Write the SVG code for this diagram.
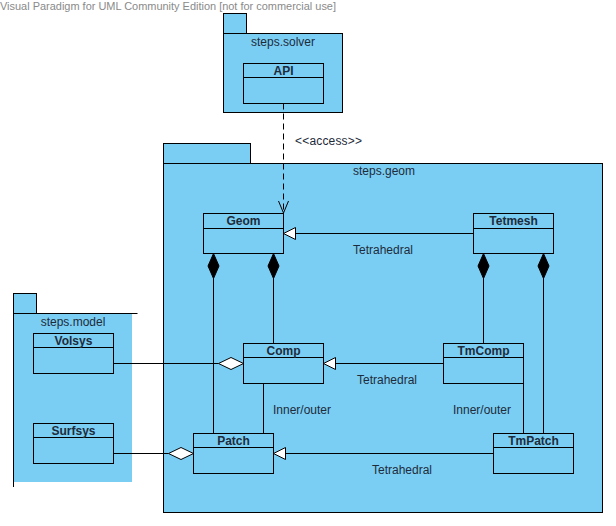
<svg xmlns="http://www.w3.org/2000/svg" width="616" height="526" viewBox="0 0 616 526">
<defs>
<style>
.pkg{fill:#7ACEF4;stroke:#000;stroke-width:1}
.cls{fill:#7ACEF4;stroke:#000;stroke-width:1}
.ln{fill:none;stroke:#000;stroke-width:1}
.t{font-family:"Liberation Sans",Arial,sans-serif;font-size:12px;fill:#1E2B3A}
.b{font-family:"Liberation Sans",Arial,sans-serif;font-size:12px;font-weight:bold;fill:#1E2B3A;text-anchor:middle}
.wm{font-family:"Liberation Sans",Arial,sans-serif;font-size:11px;fill:#8a8a8a}
</style>
</defs>
<rect width="616" height="526" fill="#fff"/>
<text class="wm" x="0" y="10" textLength="336" lengthAdjust="spacingAndGlyphs">Visual Paradigm for UML Community Edition [not for commercial use]</text>

<g id="pkg-solver">
<rect class="pkg" x="223.5" y="13.5" width="23" height="20"/>
<rect class="pkg" x="223.5" y="33.5" width="119" height="79"/>
<text class="t" x="283" y="46" text-anchor="middle">steps.solver</text>
</g>
<g id="API">
<rect class="cls" x="243.5" y="63.5" width="80" height="40"/>
<line class="ln" x1="243.5" y1="77.5" x2="323.5" y2="77.5"/>
<text class="b" x="283.5" y="74.5">API</text>
</g>

<g id="pkg-geom">
<rect class="pkg" x="163.5" y="143.5" width="87" height="20"/>
<rect class="pkg" x="163.5" y="163.5" width="439" height="349"/>
<text class="t" x="384" y="175" text-anchor="middle">steps.geom</text>
</g>

<g id="pkg-model">
<rect x="13" y="313" width="119" height="169" fill="#7ACEF4"/>
<rect class="pkg" x="13.5" y="293.5" width="23" height="20"/>
<line class="ln" x1="13.5" y1="313.5" x2="137.5" y2="313.5"/>
<line class="ln" x1="13.5" y1="313.5" x2="13.5" y2="487"/>
<text class="t" x="73" y="326" text-anchor="middle">steps.model</text>
</g>

<g id="Geom">
<rect class="cls" x="203.5" y="213.5" width="80" height="40"/>
<line class="ln" x1="203.5" y1="228.5" x2="283.5" y2="228.5"/>
<text class="b" x="243.5" y="225">Geom</text>
</g>
<g id="Tetmesh">
<rect class="cls" x="473.5" y="213.5" width="80" height="40"/>
<line class="ln" x1="473.5" y1="228.5" x2="553.5" y2="228.5"/>
<text class="b" x="513.5" y="225">Tetmesh</text>
</g>
<g id="Comp">
<rect class="cls" x="243.5" y="343.5" width="80" height="40"/>
<line class="ln" x1="243.5" y1="357.5" x2="323.5" y2="357.5"/>
<text class="b" x="283.5" y="354.5">Comp</text>
</g>
<g id="TmComp">
<rect class="cls" x="443.5" y="343.5" width="80" height="40"/>
<line class="ln" x1="443.5" y1="357.5" x2="523.5" y2="357.5"/>
<text class="b" x="483.5" y="354.5">TmComp</text>
</g>
<g id="Patch">
<rect class="cls" x="193.5" y="433.5" width="80" height="40"/>
<line class="ln" x1="193.5" y1="447.5" x2="273.5" y2="447.5"/>
<text class="b" x="233.5" y="444.5">Patch</text>
</g>
<g id="TmPatch">
<rect class="cls" x="493.5" y="433.5" width="80" height="40"/>
<line class="ln" x1="493.5" y1="447.5" x2="573.5" y2="447.5"/>
<text class="b" x="533.5" y="444.5">TmPatch</text>
</g>
<g id="Volsys">
<rect class="cls" x="33.5" y="333.5" width="80" height="40"/>
<line class="ln" x1="33.5" y1="347.5" x2="113.5" y2="347.5"/>
<text class="b" x="73.5" y="344.5">Volsys</text>
</g>
<g id="Surfsys">
<rect class="cls" x="33.5" y="423.5" width="80" height="40"/>
<line class="ln" x1="33.5" y1="437.5" x2="113.5" y2="437.5"/>
<text class="b" x="73.5" y="434.5">Surfsys</text>
</g>

<g id="connectors">
<!-- access dependency -->
<line class="ln" x1="283.5" y1="103.5" x2="283.5" y2="213" stroke-dasharray="6,4"/>
<polyline class="ln" points="278.5,201 283.5,213 288.5,201"/>
<text class="t" x="295" y="145" textLength="67" lengthAdjust="spacing">&lt;&lt;access&gt;&gt;</text>

<!-- generalizations -->
<line class="ln" x1="473.5" y1="233.5" x2="295.5" y2="233.5"/>
<path d="M283.5,233.5 L295.5,227.5 L295.5,239.5 Z" fill="#fff" stroke="#000"/>
<text class="t" x="353" y="254">Tetrahedral</text>

<line class="ln" x1="443.5" y1="363.5" x2="335.5" y2="363.5"/>
<path d="M323.5,363.5 L335.5,357.5 L335.5,369.5 Z" fill="#fff" stroke="#000"/>
<text class="t" x="357" y="384">Tetrahedral</text>

<line class="ln" x1="493.5" y1="453.5" x2="285.5" y2="453.5"/>
<path d="M273.5,453.5 L285.5,447.5 L285.5,459.5 Z" fill="#fff" stroke="#000"/>
<text class="t" x="372" y="474">Tetrahedral</text>

<!-- compositions -->
<line class="ln" x1="213.5" y1="278" x2="213.5" y2="433.5"/>
<path d="M213.5,253.5 L219,266 L213.5,278.5 L208,266 Z" fill="#000" stroke="#000"/>
<line class="ln" x1="273.5" y1="278" x2="273.5" y2="343.5"/>
<path d="M273.5,253.5 L279,266 L273.5,278.5 L268,266 Z" fill="#000" stroke="#000"/>
<line class="ln" x1="483.5" y1="278" x2="483.5" y2="343.5"/>
<path d="M483.5,253.5 L489,266 L483.5,278.5 L478,266 Z" fill="#000" stroke="#000"/>
<line class="ln" x1="543.5" y1="278" x2="543.5" y2="433.5"/>
<path d="M543.5,253.5 L549,266 L543.5,278.5 L538,266 Z" fill="#000" stroke="#000"/>

<!-- inner/outer -->
<line class="ln" x1="263.5" y1="383.5" x2="263.5" y2="433.5"/>
<text class="t" x="273" y="414">Inner/outer</text>
<line class="ln" x1="523.5" y1="383.5" x2="523.5" y2="433.5"/>
<text class="t" x="453" y="414">Inner/outer</text>

<!-- aggregations -->
<line class="ln" x1="113.5" y1="363.5" x2="218.5" y2="363.5"/>
<path d="M243.5,363.5 L231,369.5 L218.5,363.5 L231,357.5 Z" fill="#fff" stroke="#000"/>
<line class="ln" x1="113.5" y1="453.5" x2="168.5" y2="453.5"/>
<path d="M193.5,453.5 L181,459.5 L168.5,453.5 L181,447.5 Z" fill="#fff" stroke="#000"/>
</g>
</svg>
